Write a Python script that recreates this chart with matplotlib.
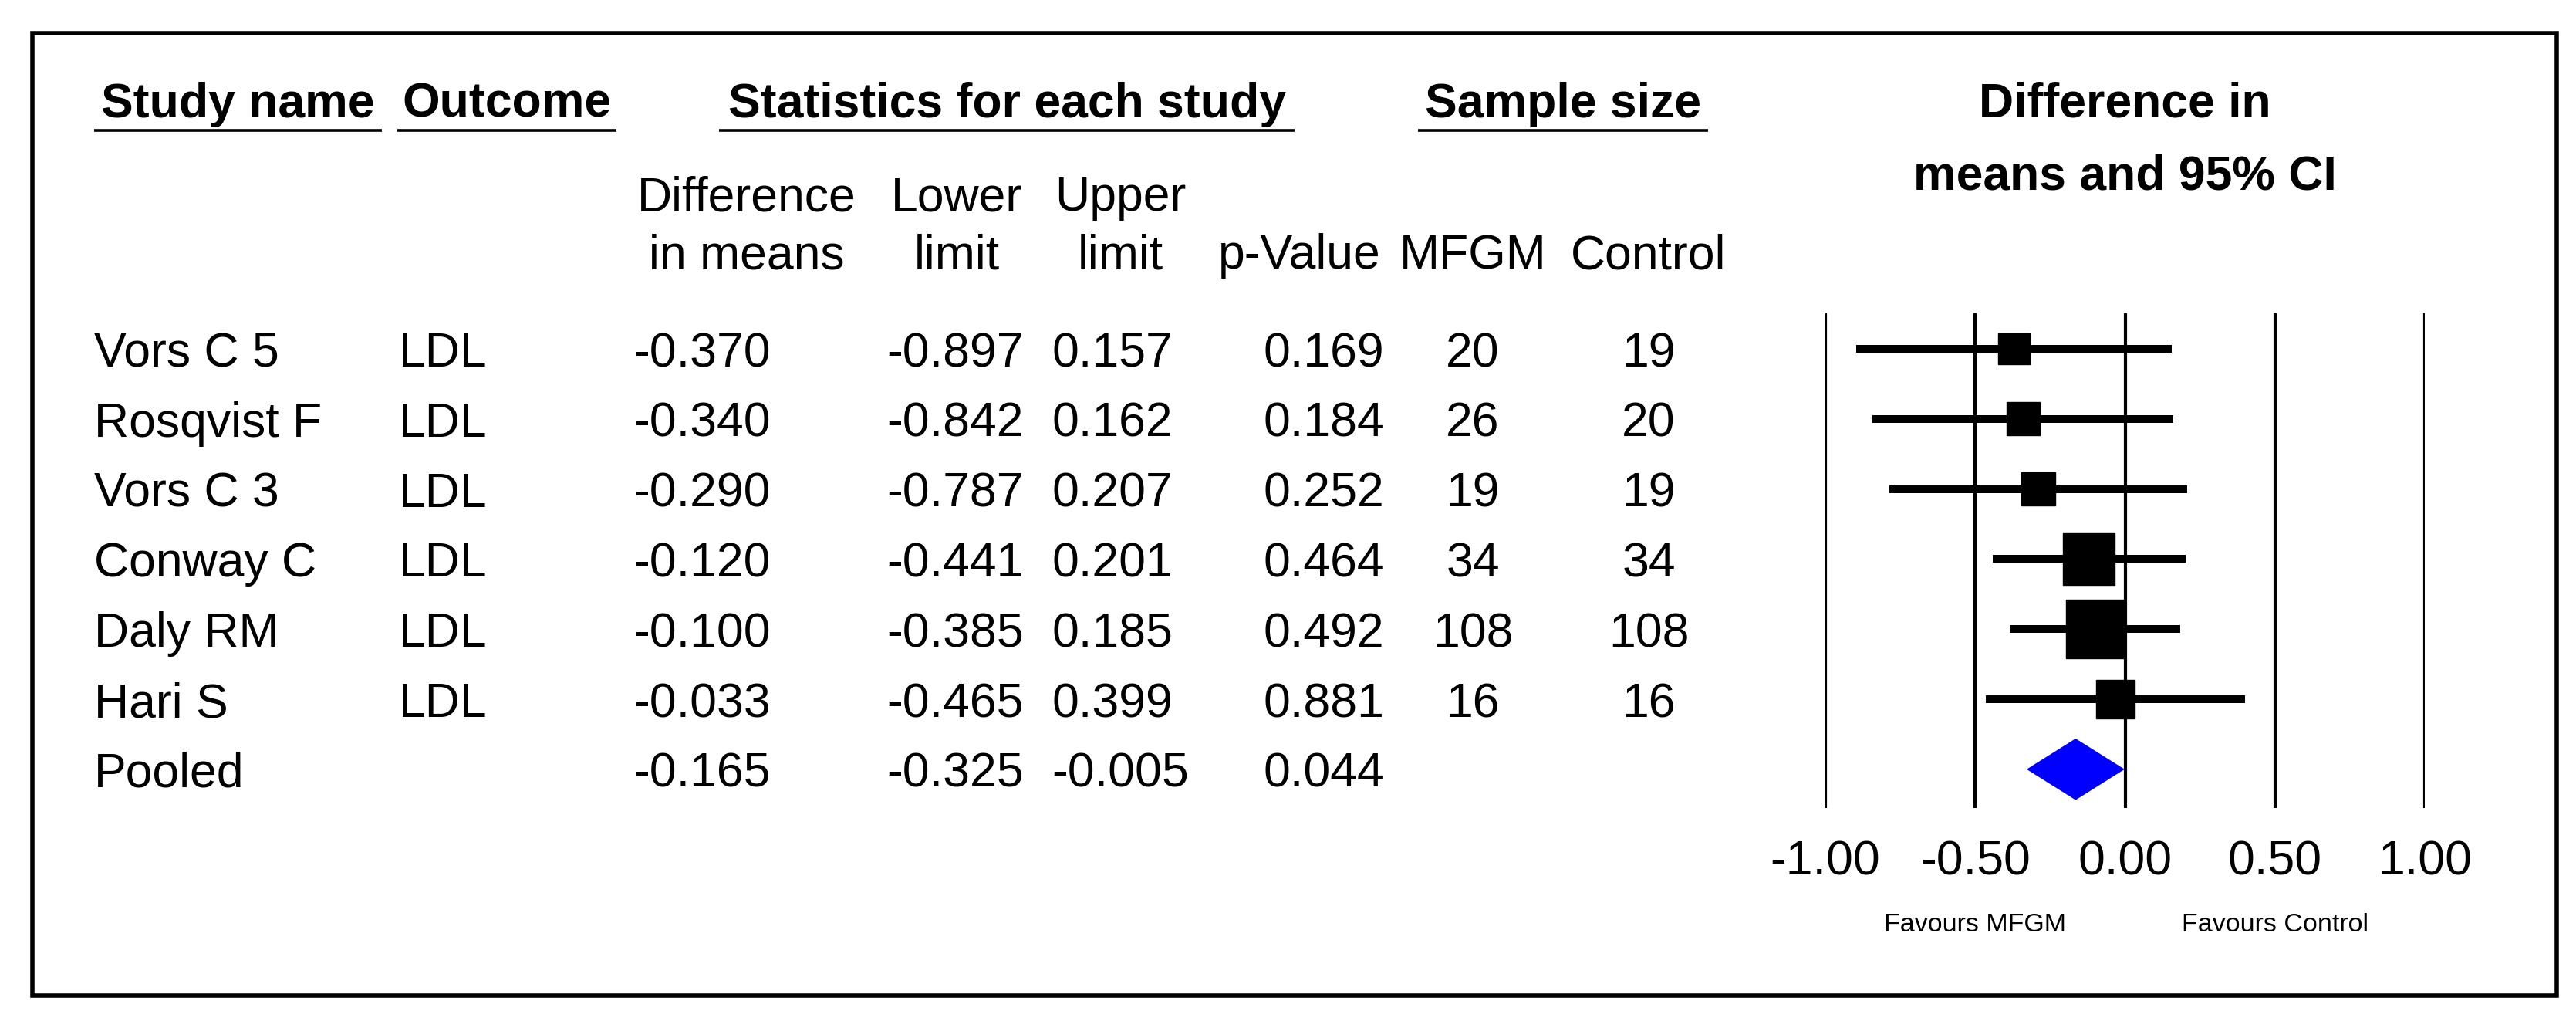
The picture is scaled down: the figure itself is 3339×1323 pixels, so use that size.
import matplotlib
matplotlib.use("Agg")
import matplotlib.pyplot as plt
from matplotlib.patches import Rectangle, Polygon

plt.rcParams['font.family'] = ['Liberation Sans', 'DejaVu Sans']

# data
studies = ["Vors C 5", "Rosqvist F", "Vors C 3", "Conway C", "Daly RM", "Hari S"]
outcome = ["LDL", "LDL", "LDL", "LDL", "LDL", "LDL"]
diff = [-0.370, -0.340, -0.290, -0.120, -0.100, -0.033]
lower = [-0.897, -0.842, -0.787, -0.441, -0.385, -0.465]
upper = [0.157, 0.162, 0.207, 0.201, 0.185, 0.399]
pval = [0.169, 0.184, 0.252, 0.464, 0.492, 0.881]
n_mfgm = [20, 26, 19, 34, 108, 16]
n_ctrl = [19, 20, 19, 34, 108, 16]
pooled = {"diff": -0.165, "lower": -0.325, "upper": -0.005, "p": 0.044}
ticks = [-1.0, -0.5, 0.0, 0.5, 1.0]

W, H = 3339, 1323
ROW0, ROW_H = 452, 90.8  # pixel centre of first row, row spacing


def py(p):
    # pixel y -> row units
    return (p - ROW0) / ROW_H


fig = plt.figure(figsize=(W / 100, H / 100), dpi=100)
ax = fig.add_axes([0, 0, 1, 1])
ax.set_xlim(0, W)
ax.set_ylim(py(H), py(0))
ax.axis('off')

FS = 45  # ~63 px text

# outer frame
ax.add_patch(Rectangle((42, py(43)), 3314 - 42, py(1290) - py(43),
                       fill=False, lw=4, ec='black'))

# group headers with underlines
headers = [("Study name", 122, 495), ("Outcome", 515, 799),
           ("Statistics for each study", 932, 1678), ("Sample size", 1838, 2214)]
for txt, x0, x1 in headers:
    ax.text((x0 + x1) / 2, py(152), txt, fontsize=FS, fontweight='bold',
            ha='center', va='baseline')
    ax.plot([x0, x1], [py(169), py(169)], color='black', lw=2.6,
            solid_capstyle='butt')

# column sub-headers
sub = [(968, "Difference", "in means"), (1240, "Lower", "limit"),
       (1452, "Upper", "limit"), (1684, "", "p-Value"),
       (1909, "", "MFGM"), (2137, "", "Control")]
for x, l1, l2 in sub:
    if l1:
        ax.text(x, py(273), l1, fontsize=FS, ha='center', va='baseline')
    ax.text(x, py(348), l2, fontsize=FS, ha='center', va='baseline')

# table rows
for i in range(len(studies)):
    yb = i + py(475) - py(452)
    ax.text(122, yb, studies[i], fontsize=FS, va='baseline')
    ax.text(517, yb, outcome[i], fontsize=FS, va='baseline')
    ax.text(821, yb, f"{diff[i]:.3f}", fontsize=FS, va='baseline')
    ax.text(1149, yb, f"{lower[i]:.3f}", fontsize=FS, va='baseline')
    ax.text(1363, yb, f"{upper[i]:.3f}", fontsize=FS, va='baseline')
    ax.text(1637, yb, f"{pval[i]:.3f}", fontsize=FS, va='baseline')
    ax.text(1909, yb, str(n_mfgm[i]), fontsize=FS, ha='center', va='baseline')
    ax.text(2137, yb, str(n_ctrl[i]), fontsize=FS, ha='center', va='baseline')

k = len(studies)
yb = k + py(475) - py(452)
ax.text(122, yb, "Pooled", fontsize=FS, va='baseline')
ax.text(821, yb, f"{pooled['diff']:.3f}", fontsize=FS, va='baseline')
ax.text(1149, yb, f"{pooled['lower']:.3f}", fontsize=FS, va='baseline')
ax.text(1363, yb, f"{pooled['upper']:.3f}", fontsize=FS, va='baseline')
ax.text(1637, yb, f"{pooled['p']:.3f}", fontsize=FS, va='baseline')

# forest panel
X0, X1 = 2366, 3143
fx = fig.add_axes([X0 / W, 0, (X1 - X0) / W, 1])
fx.set_xlim(ticks[0], ticks[-1])
fx.set_ylim(py(H), py(0))
fx.axis('off')
px_per_unit = (X1 - X0) / (ticks[-1] - ticks[0])

fx.vlines(ticks, py(406), py(1047), color='black', lw=3)

fx.text(0, py(151), "Difference in", fontsize=FS, fontweight='bold',
        ha='center', va='baseline')
fx.text(0, py(245), "means and 95% CI", fontsize=FS, fontweight='bold',
        ha='center', va='baseline')

for i in range(k):
    fx.plot([lower[i], upper[i]], [i, i], color='black', lw=7.2,
            solid_capstyle='butt')
    se = (upper[i] - lower[i]) / (2 * 1.96)
    side = 11.0 / se  # box side in px, proportional to sqrt(weight)
    w = side / px_per_unit
    h = side / ROW_H
    fx.add_patch(Rectangle((diff[i] - w / 2, i - h / 2), w, h,
                           color='black', zorder=3))

dh = 39 / ROW_H
fx.add_patch(Polygon([(pooled['lower'], k), (pooled['diff'], k - dh),
                      (pooled['upper'], k), (pooled['diff'], k + dh)],
                     closed=True, color='#0000ff', zorder=3))

for t in ticks:
    fx.text(t, py(1134), f"{t:.2f}", fontsize=FS, ha='center', va='baseline')

fx.text(-0.5, py(1207), "Favours MFGM", fontsize=24.5, ha='center', va='baseline')
fx.text(0.5, py(1207), "Favours Control", fontsize=24.5, ha='center', va='baseline')

fig.savefig("out.png", dpi=100)
